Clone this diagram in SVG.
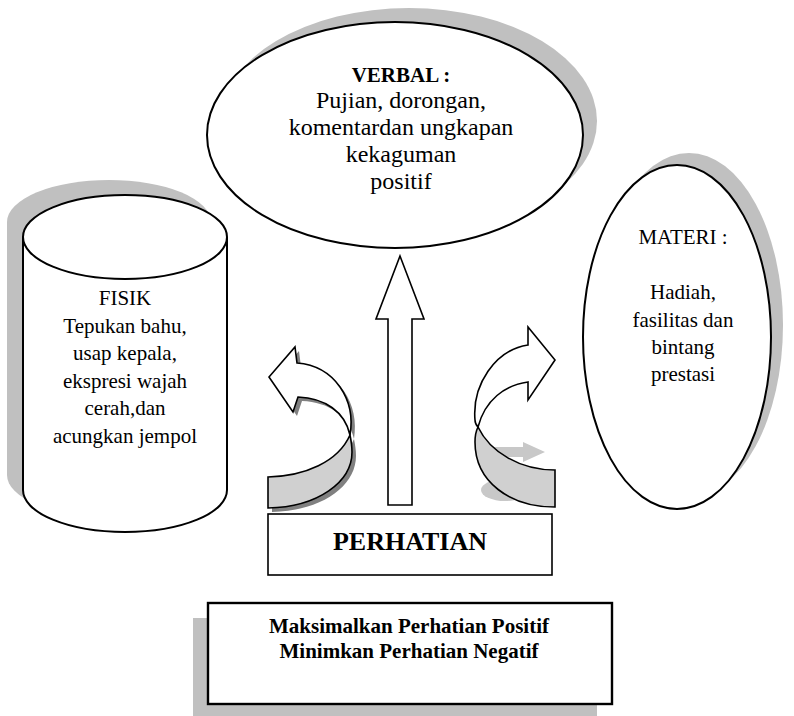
<svg xmlns="http://www.w3.org/2000/svg" width="794" height="716" viewBox="0 0 794 716">
<style>
.shadow{fill:#c0c0c0;stroke:none}
.shape{fill:#fff;stroke:#000;stroke-width:2}
.arrow{fill:#fff;stroke:#000;stroke-width:1.6;stroke-linejoin:miter}
.band{fill:#d0d0d0;stroke:#000;stroke-width:1.6}
text{font-family:"Liberation Serif","Times New Roman",serif;fill:#000;text-anchor:middle}
.t24{font-size:24px}
.t21{font-size:21px}
.b{font-weight:bold}
</style>
<defs>
<path id="cyl" d="M23,237 L23,490 A102,42 0 0 0 227,490 L227,237 A102,42 0 0 0 23,237 Z"/>
</defs>
<g id="verbal">
<ellipse class="shadow" cx="409" cy="121" rx="188" ry="113"/>
<ellipse class="shape" cx="395" cy="135" rx="188" ry="113"/>
<text class="t21 b" x="401" y="82">VERBAL :</text>
<text class="t24" x="401" y="108">Pujian, dorongan,</text>
<text class="t24" x="401" y="135">komentardan ungkapan</text>
<text class="t24" x="401" y="162">kekaguman</text>
<text class="t24" x="401" y="189">positif</text>
</g>
<g id="fisik">
<use href="#cyl" class="shadow" transform="translate(-16,-15)"/>
<use href="#cyl" class="shape"/>
<path d="M23,237 A102,42 0 0 0 227,237" fill="none" stroke="#000" stroke-width="2"/>
<text class="t21" x="125" y="305">FISIK</text>
<text class="t21" x="125" y="333">Tepukan bahu,</text>
<text class="t21" x="125" y="360">usap kepala,</text>
<text class="t21" x="125" y="388">ekspresi wajah</text>
<text class="t21" x="125" y="415">cerah,dan</text>
<text class="t21" x="125" y="443">acungkan jempol</text>
</g>
<g id="materi">
<ellipse class="shadow" cx="689" cy="325" rx="94" ry="172"/>
<ellipse class="shape" cx="677" cy="337" rx="94" ry="172"/>
<text class="t21" x="683" y="244">MATERI :</text>
<text class="t21" x="683" y="299">Hadiah,</text>
<text class="t21" x="683" y="327">fasilitas dan</text>
<text class="t21" x="683" y="354">bintang</text>
<text class="t21" x="683" y="381">prestasi</text>
</g>
<g id="connectors">
<g id="arrow-up">
<polygon class="arrow" points="400,256 424,319 412,319 412,505 388,505 388,319 376,319"/>
</g>
<g id="arrow-left">
<g transform="translate(4,4)" fill="#808080">
<path d="M350,435 C345,412 325,398 298,397 L293,412 L269,377 L295,347 L297,363 C335,366 356,400 350,435 Z"/>
<path d="M350,435 C338,462 305,476 268,477 L268,508 C318,507 352,482 352,452 C352,446 351,440 350,435 Z"/>
</g>
<path class="band" d="M350,435 C338,462 305,476 268,477 L268,508 C318,507 352,482 352,452 C352,446 351,440 350,435 Z"/>
<path class="arrow" d="M350,435 C345,412 325,398 298,397 L293,412 L269,377 L295,347 L297,363 C335,366 356,400 350,435 Z"/>
</g>
<g id="arrow-right">
<path fill="#c8c8c8" d="M490,447 L523,447 L523,442 L545,452 L523,462 L523,457 L490,457 Z"/>
<ellipse fill="#c8c8c8" cx="505" cy="490" rx="24" ry="11"/>
<path class="band" d="M478,427 C490,452 520,470 555,470 L555,507 C510,507 475,482 475,442 C475,435 476,431 478,427 Z"/>
<path class="arrow" d="M478,427 C485,400 505,385 528,382 L528,400 L555,360 L528,327 L528,345 C495,350 472,385 475,420 C475,423 476,425 478,427 Z"/>
</g>
</g>
<g id="perhatian">
<rect x="268" y="514" width="284" height="61" fill="#fff" stroke="#000" stroke-width="1.6"/>
<text class="b" x="410" y="550" font-size="26">PERHATIAN</text>
</g>
<g id="note">
<rect class="shadow" x="193" y="618" width="404" height="101"/>
<rect x="208" y="603" width="404" height="101" fill="#fff" stroke="#000" stroke-width="2.4"/>
<text class="t21 b" x="409" y="633">Maksimalkan Perhatian Positif</text>
<text class="t21 b" x="409" y="658">Minimkan Perhatian Negatif</text>
</g>
</svg>
